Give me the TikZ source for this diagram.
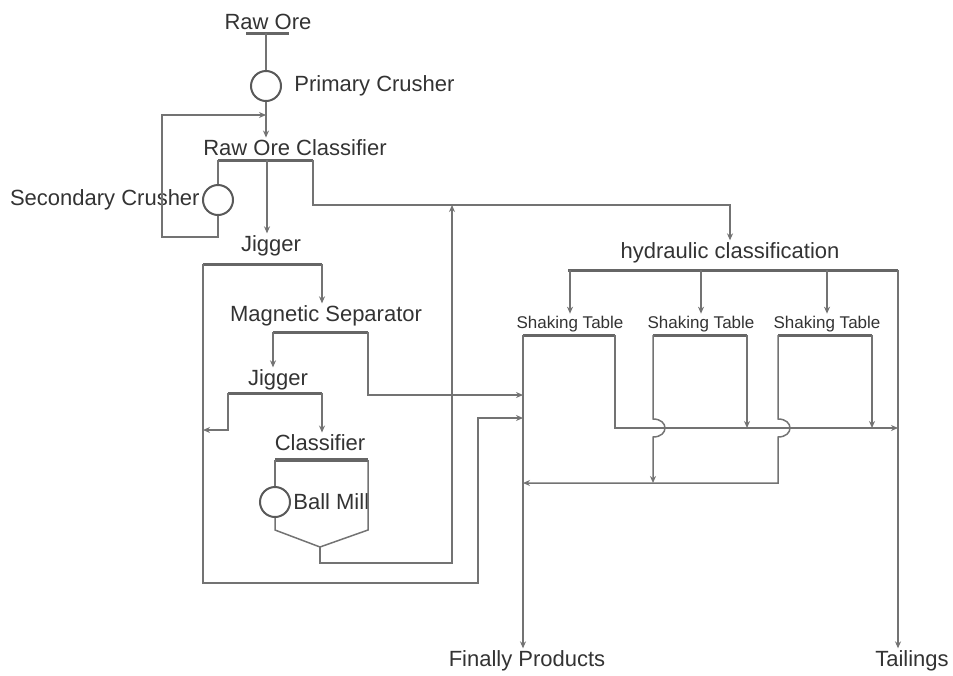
\documentclass[tikz,border=0pt]{standalone}
\usepackage{fontspec}
\setmainfont{Liberation Sans}
\usetikzlibrary{arrows.meta,positioning}

\tikzset{
  lbl/.style={font=\fontsize{11}{13}\selectfont, text=black!80, inner sep=1pt},
  small/.style={font=\fontsize{8.5}{10}\selectfont, text=black!80, inner sep=1pt},
  crusher/.style={circle, draw=black!65, line width=1pt, minimum size=15pt, inner sep=0pt},
  pipe/.style={draw=black!55, line width=0.75pt},
  flow/.style={pipe, -{Stealth[length=3.5pt,width=3pt]}},
  bar/.style={draw=black!60, line width=1.5pt}
}

\begin{document}
\begin{tikzpicture}[x=0.5pt,y=-0.5pt]
\useasboundingbox (0,0) rectangle (953,675);

\node[lbl] (rawore) at (268,22) {Raw Ore};
\coordinate (ro1) at (246,33);
\coordinate (ro2) at (289,33);
\coordinate (ro) at (266,33);
\draw[bar] (ro1) -- (ro2);

\node[crusher] (pcrush) at (266,86) {};
\node[lbl, right=5pt of pcrush] (pcrushlbl) {Primary Crusher};

\node[lbl] (rocls) at (295,148) {Raw Ore Classifier};
\coordinate (rcl) at (218,160);
\coordinate (rcm) at (267,160);
\coordinate (rcr) at (313,160);
\draw[bar] (rcl) -- (rcr);

\draw[pipe] (ro) -- (pcrush);
\draw[flow] (pcrush) -- (pcrush |- rocls.north);

\node[crusher] (scrush) at (218,200) {};
\node[lbl, left=0pt of scrush] (scrushlbl) {Secondary Crusher};
\coordinate (ret1) at (162,237);
\coordinate (ret2) at (162,115);
\draw[pipe] (rcl) -- (scrush);
\draw[flow] (scrush.south) |- (ret1) -- (ret2) -- (ret2 -| pcrush);

% jigger and magnetic line
\node[lbl] (jig1) at (271,246) {Jigger};
\coordinate (j1l) at (203,264);
\coordinate (j1r) at (322,264);
\draw[bar] (j1l) -- (j1r);
\draw[flow] (rcm) -- (rcm |- jig1.north);

\node[lbl] (magsep) at (326,316) {Magnetic Separator};
\coordinate (msl) at (273,332);
\coordinate (msr) at (368,332);
\draw[bar] (msl) -- (msr);
\draw[flow] (j1r) -- (j1r |- magsep.north);

\node[lbl] (jig2) at (278,380) {Jigger};
\coordinate (j2l) at (228,393);
\coordinate (j2r) at (322,393);
\draw[bar] (j2l) -- (j2r);
\draw[flow] (msl) -- (msl |- jig2.north);

\node[lbl] (clsf) at (320,443) {Classifier};
\coordinate (cll) at (275,460);
\coordinate (clr) at (368,460);
\draw[bar, line width=2pt] (cll) -- (clr);
\draw[flow] (j2r) -- (j2r |- clsf.north);

\node[crusher] (bmill) at (275,502) {};
\node[lbl, right=0pt of bmill] (bmilllbl) {Ball Mill};
\coordinate (fnl) at (275,530);
\coordinate (fnr) at (368,530);
\coordinate (fnb) at (320,547);
\coordinate (fno) at (320,563);
\draw[pipe] (cll) -- (bmill);
\draw[pipe] (bmill) -- (fnl) -- (fnb) -- (fnr) -- (clr);

% returns and products
\coordinate (hub) at (452,205);
\coordinate (in1) at (523,395);
\coordinate (in2) at (523,418);
\coordinate (lp) at (478,583);
\coordinate (j2d) at (203,430);
\draw[flow] (fnb) -- (fno) -| (hub);
\draw[flow] (j1l) |- (lp) |- (in2);
\draw[flow] (msr) |- (in1);
\draw[flow] (j2l) |- (j2d);

\node[lbl] (hydcls) at (730,253) {hydraulic classification};
\coordinate (hyl) at (568,270);
\coordinate (hyr) at (898,270);
\draw[bar] (hyl) -- (hyr);
\draw[flow] (rcr) |- (hub) -| (hydcls.north);

\foreach \i/\x/\l/\r in {1/570/523/615, 2/701/653/747, 3/827/778/872}{
  \node[small] (st\i) at (\x,324) {Shaking Table};
  \coordinate (w\i) at (\l,335);
  \coordinate (e\i) at (\r,335);
  \draw[bar] (w\i) -- (e\i);
  \draw[flow] (st\i.north |- hyl) -- (st\i.north);
}

\node[lbl] (prod) at (527,661) {Finally Products};
\node[lbl] (tail) at (912,661) {Tailings};
\coordinate (in3) at (898,428);
\coordinate (in4) at (523,483);

\draw[flow] (w1) -- (w1 |- prod.north);
\draw[flow] (hyr) -- (hyr |- tail.north);
\draw[flow] (e1) |- (in3);
\draw[flow] (e2) -- (e2 |- in3);
\draw[flow] (e3) -- (e3 |- in3);
\draw[flow] (w2) -- ++(0,84) .. controls +(16,0) and +(16,0) .. ++(0,18) -- (w2 |- in4);
\draw[flow] (w3) -- ++(0,84) .. controls +(16,0) and +(16,0) .. ++(0,18) |- (in4);
\end{tikzpicture}
\end{document}
